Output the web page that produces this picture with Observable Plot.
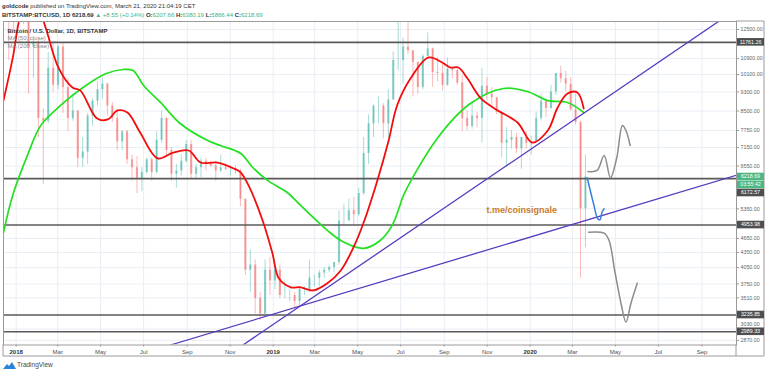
<!DOCTYPE html>
<html><head><meta charset="utf-8">
<script src="https://cdn.jsdelivr.net/npm/d3@7"></script>
<script src="https://cdn.jsdelivr.net/npm/@observablehq/plot@0.6"></script>
<style>
html,body{margin:0;padding:0;background:#fff}
body{width:768px;height:374px;position:relative;overflow:hidden;font-family:"Liberation Sans",Arial,sans-serif}
.hdr{position:absolute;left:2px;font-size:6px;line-height:6px;white-space:nowrap;color:#333}
#l1{top:2.5px}
#l2{top:11.5px;font-weight:bold}
.g{color:#3ab28a;font-weight:normal}
#chart{position:absolute;left:0;top:20px}
#foot{position:absolute;left:3px;top:361px;font-size:6.5px;line-height:8px;color:#444;display:flex;align-items:center;gap:1px}
</style></head><body>
<div class="hdr" id="l1"><b>goldcode</b> published on TradingView.com, March 21, 2020 21:04:19 CET</div>
<div class="hdr" id="l2">BITSTAMP:BTCUSD, 1D 6218.69 <span class="g">▲ +8.55 (+0.14%)</span> O:<span class="g">6207.66</span> H:<span class="g">6380.19</span> L:<span class="g">5866.44</span> C:<span class="g">6218.69</span></div>
<div id="chart"></div>
<div id="foot"><svg width="13" height="8" viewBox="0 0 13 8"><path d="M0 8 L4 3 L6 5 L9 1 L13 8 Z" fill="#2a84d8"/></svg><span>TradingView</span></div>
<script>
// ---- data ----
const firstWeek = "2017-12-11";
const weekOpen = [16700,19000,14000,13850,16200,13600,11500,11700,8200,8100,
10400,9600,11500,9500,8200,8500,6800,7000,8300,8900,
9400,9650,8700,8200,7350,7700,6750,6500,6150,6350,
6750,6350,7400,8200,7050,6300,6400,6700,7250,6300,
6500,6700,6600,6550,6400,6500,6450,6450,6400,5600,
4000,4100,3500,3250,4000,3800,4000,3550,3550,3550,
3450,3650,3650,3850,3850,3950,4000,4050,4150,5050,
5050,5300,5200,5750,6950,8000,8700,8700,8000,8950,
10800,10800,11500,11300,10700,9500,11000,11400,10200,10150,
9600,10350,10300,9700,8200,7900,8300,8200,9550,9200,
9050,8450,7300,7400,7500,7100,7500,7300,7350,8200,
8900,8600,9300,10150,9900,9650,8550,8050,5350];
const weekHigh = [19600,19200,16500,17250,16300,14000,12000,11900,8600,11200,
11800,11600,11700,9900,9200,8500,7500,8400,9000,9750,
9950,9700,8850,8500,7750,7750,6900,6850,6500,6800,
6800,7700,8500,8250,7150,6600,6900,7400,7400,6600,
6800,6800,6700,6700,6900,6550,6550,6550,6450,5600,
4400,4200,3600,4200,4250,4100,4100,3800,3650,3600,
3700,3700,4200,3900,4000,4050,4100,4150,5300,5450,
5600,5650,5900,7500,8350,8750,9100,8800,9400,11250,
13900,12000,13150,11300,10700,11100,12300,11450,10950,10600,
10900,10450,10400,10050,8500,8850,8450,10400,9950,9500,
9050,8450,7850,7750,7650,7500,7700,7550,8450,9200,
8950,9600,10150,10500,10250,9950,9200,8100,6900];
const weekLow = [16000,10800,12500,12750,12800,9200,9900,7500,6000,8000,
9300,9400,8400,7700,8100,6500,6500,6600,7900,8700,
9000,8300,8050,7050,7050,6600,6100,5750,5800,6300,
6100,6300,7300,6900,6100,5900,6250,6650,6150,6150,
6200,6400,6500,6100,6350,6400,6250,6300,5400,3900,
3600,3250,3150,3200,3550,3650,3500,3500,3450,3350,
3350,3550,3600,3700,3700,3850,3950,3950,4100,4950,
5050,4950,5150,5700,6600,7500,8000,7450,7500,8950,
10300,9650,11100,9100,9200,9400,11000,9500,9750,9350,
9550,9900,9600,7700,7750,7800,7850,7300,8950,8700,
8350,6800,6500,7100,6950,6450,7100,6900,7350,8100,
8250,8550,9150,9700,9300,8500,7950,3850,4450];
const weekClose = [19000,14000,13850,16200,13600,11500,11700,8200,8100,10400,
9600,11500,9500,8200,8500,6800,7000,8300,8900,9400,
9650,8700,8200,7350,7700,6750,6500,6150,6350,6750,
6350,7400,8200,7050,6300,6400,6700,7250,6300,6500,
6700,6600,6550,6400,6500,6450,6450,6400,5600,4000,
4100,3500,3250,4000,3800,4000,3550,3550,3550,3450,
3650,3650,3850,3850,3950,4000,4050,4150,5050,5050,
5300,5200,5750,6950,8000,8700,8700,8000,8950,10800,
10800,11500,11300,10700,9500,11000,11400,10200,10150,9600,
10350,10300,9700,8200,7900,8300,8200,9550,9200,9050,
8450,7300,7400,7500,7100,7500,7300,7350,8200,8900,
8600,9300,10150,9900,9650,8550,8050,5350,6218.69];

const ma50Dates = ["2017-12-14","2017-12-27","2018-01-07","2018-01-22","2018-02-08","2018-02-14","2018-03-02","2018-03-22","2018-04-02","2018-04-26","2018-05-11","2018-05-25","2018-06-08","2018-06-26","2018-07-21","2018-08-12","2018-09-03","2018-09-20","2018-10-14","2018-11-06","2018-11-16","2018-11-27","2018-12-17","2018-12-31","2019-01-09","2019-01-26","2019-02-09","2019-02-27","2019-03-19","2019-04-07","2019-04-25","2019-05-09","2019-05-29","2019-06-14","2019-06-26","2019-07-15","2019-08-10","2019-08-29","2019-09-10","2019-09-21","2019-10-04","2019-10-23","2019-11-16","2019-12-14","2020-01-04","2020-01-26","2020-02-09","2020-02-23","2020-03-08","2020-03-17"];
const ma50Values = [8930,10900,13360,15000,13100,12320,10440,9500,9370,8200,8165,8520,8440,7680,6790,6980,7050,6660,6660,6475,6350,5975,5060,4330,3850,3690,3690,3635,3760,3995,4455,4990,6120,7390,8725,9910,10950,10690,10440,10440,9910,9020,8520,8050,7320,7750,8640,9230,9280,8600];

const ma200Dates = ["2017-12-14","2017-12-27","2018-01-17","2018-02-05","2018-03-05","2018-04-06","2018-05-08","2018-06-02","2018-06-16","2018-07-01","2018-07-25","2018-08-22","2018-09-30","2018-10-18","2018-11-16","2018-12-03","2018-12-24","2019-01-21","2019-02-09","2019-03-19","2019-04-11","2019-05-09","2019-06-02","2019-06-19","2019-06-30","2019-07-05","2019-08-22","2019-10-08","2019-11-24","2019-12-28","2020-01-26","2020-02-23","2020-03-17"];
const ma200Values = [4780,5700,6890,7940,8725,9500,10135,10345,10295,9590,8850,8010,7390,7220,6950,6505,6120,5780,5435,4830,4570,4435,4605,4945,5435,5700,7465,8805,9455,9320,8930,8850,8440];

const levelValues = [11761.26, 6172.57, 4953.98, 3235.85, 2989.33];

const trendADates = ["2018-11-19","2020-09-25"], trendAPrices = [2808, 13000];
const trendBDates = ["2018-08-08","2020-10-20"], trendBPrices = [2808, 6272];

const upPathDates = ["2020-03-23","2020-04-05","2020-04-15","2020-04-24","2020-05-03","2020-05-11","2020-05-16","2020-05-22"];
const upPathPrices = [6384,6414,6886,6196,6821,7936,7750,7219];
const downPathDates = ["2020-03-24","2020-04-15","2020-04-22","2020-04-30","2020-05-09","2020-05-16","2020-05-23","2020-06-01"];
const downPathPrices = [4789,4766,4605,3995,3418,3129,3418,3763];
const bluePathDates = ["2020-03-22","2020-03-31","2020-04-06","2020-04-09","2020-04-12","2020-04-15"];
const bluePathPrices = [6196,5479,5103,5079,5265,5350];

const priceTicks = [12500,10900,10100,9300,8500,7750,7150,6550,5350,4650,4350,4050,3750,3510,3030,2870];
const monthTickDates = ["2018-01-01","2018-03-01","2018-05-01","2018-07-01","2018-09-01","2018-11-01","2019-01-01","2019-03-01","2019-05-01","2019-07-01","2019-09-01","2019-11-01","2020-01-01","2020-03-01","2020-05-01","2020-07-01","2020-09-01"];
const monthTickLabels = ["2018","Mar","May","Jul","Sep","Nov","2019","Mar","May","Jul","Sep","Nov","2020","Mar","May","Jul","Sep"];

const watermark = {date: "2019-10-31", price: 5308, text: "t.me/coinsignale"};
const lastPrice = 6218.69, countdown = "03:55:42";

// ---- build ----
const P = d3.utcParse("%Y-%m-%d");
const weeks = d3.utcMonday.range(P(firstWeek), P("2020-03-17"));
const candles = weeks.map((w, i) => ({date: d3.utcHour.offset(w, 84), o: weekOpen[i], h: weekHigh[i], l: weekLow[i], c: weekClose[i]}));
const zip = (ds, vs) => ds.map((d, i) => ({date: P(d), v: vs[i]}));
const ma50 = zip(ma50Dates, ma50Values), ma200 = zip(ma200Dates, ma200Values);
const trendA = zip(trendADates, trendAPrices), trendB = zip(trendBDates, trendBPrices);
const upPath = zip(upPathDates, upPathPrices), downPath = zip(downPathDates, downPathPrices), bluePath = zip(bluePathDates, bluePathPrices);
const ticksX = monthTickDates.map(P);
const UP = "#26a69a", DN = "#ef5350";
const col = d => d.c >= d.o ? UP : DN;

const plot = Plot.plot({
  width: 768, height: 337,
  marginTop: 1, marginBottom: 12.5, marginLeft: 3, marginRight: 32,
  style: {fontSize: "6px", fontFamily: "Liberation Sans, Arial, sans-serif", color: "#555", background: "transparent"},
  x: {type: "utc", domain: [P("2017-12-14"), P("2020-10-20")], ticks: ticksX, tickSize: 2, tickPadding: 2.5,
      tickFormat: d => monthTickLabels[ticksX.findIndex(t => +t === +d)], label: null},
  y: {type: "log", domain: [2808, 12982], axis: "right", ticks: priceTicks, tickSize: 2, tickPadding: 2,
      tickFormat: d => d.toFixed(2), label: null},
  marks: [
    Plot.ruleX(ticksX, {stroke: "#e9eef5", strokeWidth: 1}),
    Plot.ruleY(priceTicks, {stroke: "#e9eef5", strokeWidth: 1}),
    Plot.ruleX(candles, {x: "date", y1: "l", y2: "h", stroke: col, strokeOpacity: 0.4, strokeWidth: 1, clip: true}),
    Plot.ruleX(candles, {x: "date", y1: "o", y2: "c", stroke: col, strokeOpacity: 0.45, strokeWidth: 2.2, clip: true}),
    Plot.ruleY(levelValues, {stroke: "#5a5a5a", strokeWidth: 1.6}),
    Plot.line(ma200, {x: "date", y: "v", stroke: "#22e022", strokeWidth: 1.7, curve: "catmull-rom", clip: true}),
    Plot.line(ma50, {x: "date", y: "v", stroke: "#f20d0d", strokeWidth: 1.8, curve: "catmull-rom", clip: true}),
    Plot.line(trendA, {x: "date", y: "v", stroke: "#5a3cc0", strokeWidth: 1.3, clip: true}),
    Plot.line(trendB, {x: "date", y: "v", stroke: "#5a3cc0", strokeWidth: 1.3, clip: true}),
    Plot.line(upPath, {x: "date", y: "v", stroke: "#8c8c8c", strokeWidth: 1.5, curve: "catmull-rom", clip: true}),
    Plot.line(downPath, {x: "date", y: "v", stroke: "#8c8c8c", strokeWidth: 1.5, curve: "catmull-rom", clip: true}),
    Plot.line(bluePath, {x: "date", y: "v", stroke: "#3a7fe0", strokeWidth: 1.5, curve: "catmull-rom", clip: true}),
    Plot.text([watermark], {x: d => P(d.date), y: "price", text: "text", textAnchor: "start", fontSize: 9, fontWeight: "bold", fill: "#c97b2c"}),
    Plot.text(["Bitcoin / U.S. Dollar, 1D, BITSTAMP"], {frameAnchor: "top-left", dx: 4, dy: 7.3, textAnchor: "start", fontWeight: "bold", fill: "#333"}),
    Plot.text(["MA (50, close)"], {frameAnchor: "top-left", dx: 4, dy: 14.5, textAnchor: "start", fill: "#8a8a8a"}),
    Plot.text(["MA (200, close)"], {frameAnchor: "top-left", dx: 4, dy: 22.3, textAnchor: "start", fill: "#8a8a8a"}),
    Plot.frame({stroke: "#9a9a9a"})
  ]
});
document.getElementById("chart").appendChild(plot);

// ---- axis styling & price labels ----
const svg = d3.select(plot);
svg.selectAll('g[aria-label^="x-axis"] text').attr("font-size", 6).attr("fill", "#505050")
  .filter(function () { return /^\d{4}$/.test(this.textContent); }).attr("font-weight", "bold").attr("fill", "#333");
svg.selectAll('g[aria-label^="y-axis"] text').attr("font-size", 5.3).attr("fill", "#666")
  .filter(function () { return this.textContent === "3030.00"; })
  .each(function () { this.setAttribute("transform", (this.getAttribute("transform") || "") + " translate(0,-4.5)"); });
svg.selectAll('g[aria-label^="x-axis"] path, g[aria-label^="x-axis"] line').attr("stroke", "#999");
svg.selectAll('g[aria-label^="y-axis"] path, g[aria-label^="y-axis"] line').attr("stroke", "#999");

const ys = plot.scale("y");
const g = svg.append("g");
g.append("path").attr("d", "M736,1 H764 V336 H3 V324.5 M736,324.5 V336").attr("fill", "none").attr("stroke", "#9a9a9a");
function box(y, label, fill) {
  g.append("rect").attr("x", 737).attr("y", y - 3.8).attr("width", 27).attr("height", 7.6).attr("fill", fill);
  g.append("text").attr("x", 750.5).attr("y", y).attr("dy", "0.35em").attr("text-anchor", "middle")
    .attr("font-size", 5.3).attr("fill", "#fff").text(label);
}
const yLast = ys.apply(lastPrice);
box(ys.apply(levelValues[0]), levelValues[0].toFixed(2), "#4e4e4e");
box(yLast, lastPrice.toFixed(2), "#4cb782");
box(yLast + 8, countdown, "#4cb782");
box(yLast + 16, levelValues[1].toFixed(2), "#4e4e4e");
for (const v of levelValues.slice(2)) box(ys.apply(v), v.toFixed(2), "#4e4e4e");
</script>
</body></html>
